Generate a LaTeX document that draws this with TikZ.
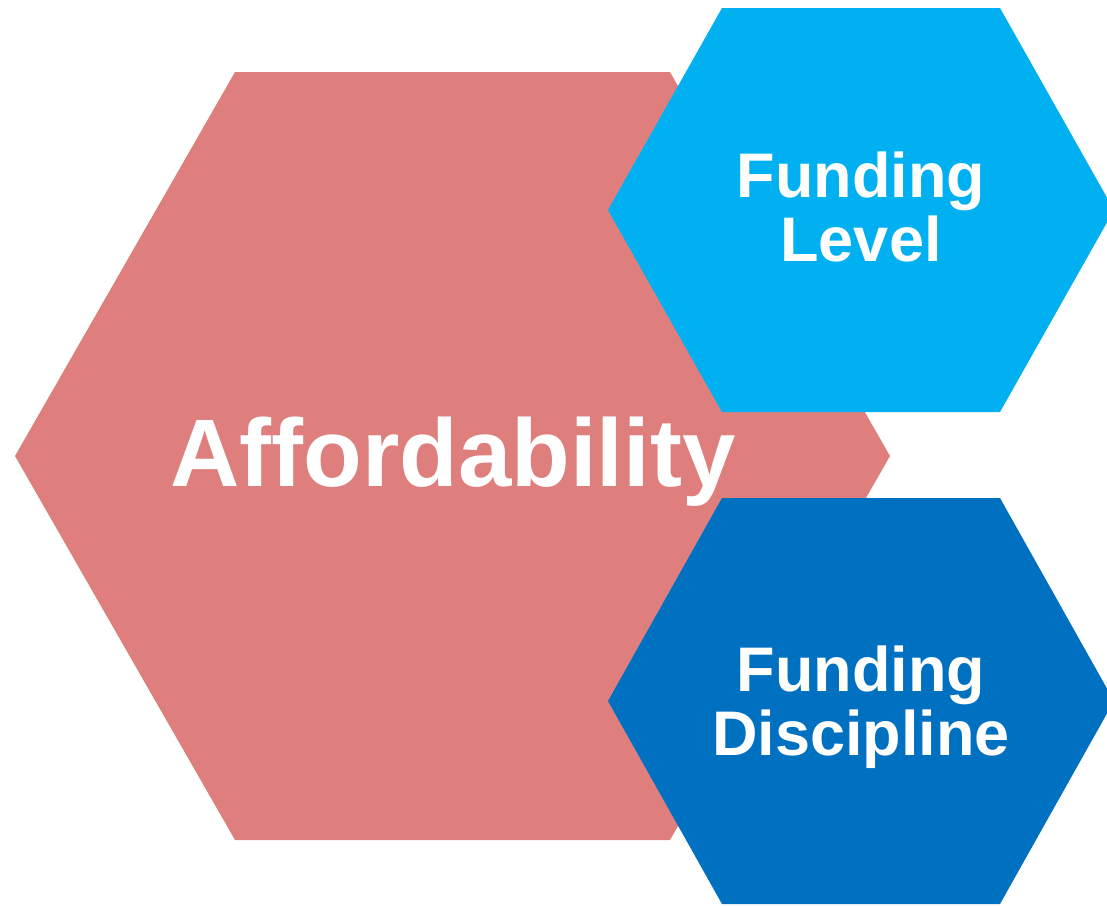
\documentclass[tikz,border=0pt]{standalone}
\usepackage{fontspec}
\setmainfont{Liberation Sans}
\usepackage{tikz}

\definecolor{affordred}{HTML}{DE7F7E}
\definecolor{levelblue}{HTML}{00B0F0}
\definecolor{disciplineblue}{HTML}{0070C0}

\tikzset{
  hexlabel/.style={text=white, align=center, inner sep=0pt,
    font=\bfseries\fontsize{31.5}{32}\selectfont},
  mainlabel/.style={text=white, inner sep=0pt,
    font=\bfseries\fontsize{48}{50}\selectfont}
}

% hexagon: centre x, centre y, half top edge, half height, corner offset, colour
\newcommand{\hexfill}[6]{%
  \fill[#6] (#1-#3-#5,#2) -- (#1-#3,#2-#4) -- (#1+#3,#2-#4)
    -- (#1+#3+#5,#2) -- (#1+#3,#2+#4) -- (#1-#3,#2+#4) -- cycle;}

\begin{document}
\begin{tikzpicture}[x=0.5pt, y=-0.5pt]
  \clip (0,0) rectangle (1107,905);

  \hexfill{452.5}{456}{217.5}{384}{220}{affordred}
  \hexfill{861}{210}{139}{202}{114}{levelblue}
  \hexfill{861}{701}{139}{203}{114}{disciplineblue}

  \node[mainlabel, anchor=base] (afford) at (453,486) {Affordability};
  \node[hexlabel] (level) at (861,207) {Funding\\Level};
  \node[hexlabel] (discipline) at (861,707) {Funding\\Discipline};
\end{tikzpicture}
\end{document}
